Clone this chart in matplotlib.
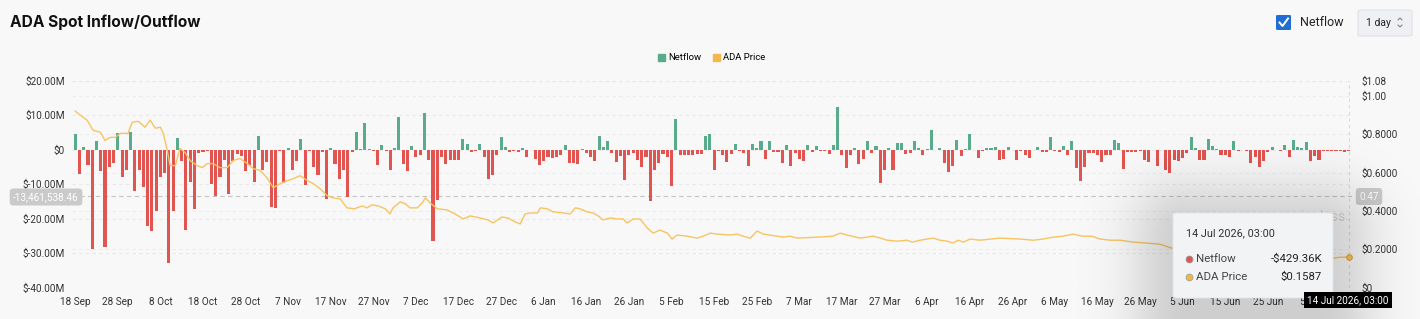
import numpy as np
import matplotlib
matplotlib.use("Agg")
import matplotlib.pyplot as plt
from matplotlib.patches import FancyBboxPatch, Patch
from matplotlib.lines import Line2D

plt.rcParams['font.family'] = ['Roboto', 'DejaVu Sans']

# ---- data ----
start_labels = ['18 Sep', '28 Sep', '8 Oct', '18 Oct', '28 Oct', '7 Nov', '17 Nov', '27 Nov',
                '7 Dec', '17 Dec', '27 Dec', '6 Jan', '16 Jan', '26 Jan', '5 Feb', '15 Feb',
                '25 Feb', '7 Mar', '17 Mar', '27 Mar', '6 Apr', '16 Apr', '26 Apr', '6 May',
                '16 May', '26 May', '5 Jun', '15 Jun', '25 Jun', '5 Jul']

# daily netflow in $M, 18 Sep 2025 -> 14 Jul 2026
netflow = [
    4.4, -7.1, 0.7, -4.4, -28.8, 2.6, -6.3, -28.3, -5.0, -3.9,
    4.8, -8.0, -6.0, 5.1, -11.9, -5.8, -10.7, -22.3, -23.7, -17.9,
    -7.8, -6.8, -32.9, -17.7, 3.4, -3.4, -23.3, -9.5, -17.2, -1.0,
    -0.8, -0.3, -10.0, -13.4, -8.0, -3.1, -12.8, -3.4, -1.2, -1.9,
    -6.3, -4.4, -9.5, 4.1, -5.8, -3.7, -16.7, -16.8, -0.3, -9.7,
    0.6, -6.0, -3.2, 3.2, -10.3, -0.4, -5.0, -7.5, -0.8, -14.2,
    0.6, -4.2, -8.5, -6.0, -13.8, -0.8, 5.1, 0.2, 7.8, 0.3,
    -0.5, -4.5, 1.2, -0.5, -5.8, 0.5, 9.4, -4.1, -6.3, 1.0,
    -2.1, -1.7, 10.7, -3.1, -26.4, -14.5, -2.1, -4.1, -2.9, -2.9,
    -3.1, 3.1, 1.7, -0.7, -0.5, 1.5, -2.2, -8.5, -7.3, -1.7,
    3.6, 0.8, -0.8, -0.5, -0.7, 0.5, -2.1, -0.2, -2.7, -4.4,
    -3.4, -2.1, -2.4, -2.1, -1.5, 1.2, -3.9, -3.9, -4.1, 0.2,
    -1.0, -2.1, -3.4, 3.9, 0.7, 2.4, -1.0, -3.7, -1.9, -8.9,
    -1.5, -1.0, -2.9, -5.0, -2.1, -15.0, -6.0, -3.9, -1.2, -2.1,
    -10.5, 8.9, -1.7, -1.7, -1.7, -1.7, -1.2, -1.2, 3.9, 4.4,
    -6.0, -0.3, -1.7, -3.7, -1.2, 1.7, -0.5, -1.0, -4.7, 1.7,
    0.5, 2.6, -2.7, 2.4, -0.6, -0.8, -3.9, 1.3, -4.7, -1.0,
    -2.7, -3.4, 1.2, -0.6, 1.0, -0.4, -0.5, -1.2, 1.3, 12.3,
    -1.7, -5.3, -1.5, 0.5, -4.2, -2.6, 2.4, -1.0, 1.0, -9.7,
    -5.8, 0.5, -6.0, 1.9, 1.9, -1.2, -1.0, 2.4, 0.5, -1.7,
    0.2, 5.8, -0.2, 0.5, -3.9, -6.6, -4.8, 2.9, -1.9, 0.2,
    4.4, -0.2, -2.4, -0.5, 0.5, 0.5, 0.8, -2.9, -2.6, 0.7,
    -0.2, -3.1, -0.5, -1.7, -2.4, -0.2, 0.7, -0.8, -0.8, 3.6,
    -0.5, -0.8, 1.0, -1.5, 2.6, -5.3, -9.2, -5.0, -1.0, -1.0,
    -1.5, -3.7, -1.5, -1.5, 2.9, 1.9, -5.6, -0.8, -0.8, -0.8,
    -0.5, -3.1, -3.7, -0.2, -4.7, -0.2, -5.8, -6.8, -2.9, -3.4,
    -2.4, -1.0, 3.7, 0.5, -2.9, -2.9, 3.1, 1.0, 0.2, -1.5,
    -1.7, -2.1, 2.4, -0.5, -0.2, -0.5, -3.9, -2.1, -5.0, -3.4,
    -0.8, 0.7, -0.2, -0.3, 1.2, -2.1, 2.9, 0.7, 0.5, 2.1,
    -3.4, -1.9, -2.9, -0.5, -0.5, -0.4, -0.4, -0.4, -0.6, -0.43,
]

# ADA price samples (day index, $)
price_pts = [
    (0, 0.921), (1.2, 0.900), (2.8, 0.874), (4.2, 0.821), (5.9, 0.811), (7, 0.768),
    (8.2, 0.784), (9.4, 0.784), (10.6, 0.805), (12.4, 0.805), (13.4, 0.863), (14.8, 0.868),
    (16.4, 0.837), (17.6, 0.874), (18.8, 0.832), (20, 0.837), (20.7, 0.805), (21.6, 0.716),
    (22.3, 0.637), (23.5, 0.637), (24.6, 0.726), (25.8, 0.705), (27, 0.663), (28.6, 0.637),
    (29.8, 0.626), (31, 0.647), (32.4, 0.647), (34, 0.626), (35.7, 0.626), (37.1, 0.663),
    (38.7, 0.674), (40.4, 0.647), (41.8, 0.621), (43.4, 0.611), (45, 0.574), (46.5, 0.521),
    (48.1, 0.542), (49.8, 0.558), (51.2, 0.568), (52.8, 0.584), (54.5, 0.558), (55.9, 0.542),
    (57.5, 0.516), (59.2, 0.479), (60.6, 0.468), (62.2, 0.463), (63.8, 0.416), (65.5, 0.411),
    (67.4, 0.426), (68.5, 0.416), (69.7, 0.432), (71.1, 0.426), (72.8, 0.411), (73.9, 0.384),
    (74.6, 0.416), (76.3, 0.447), (77.5, 0.437), (78.6, 0.416), (80.3, 0.416), (81.5, 0.442),
    (82.2, 0.468), (83.3, 0.442), (85, 0.411), (87.3, 0.405), (89.2, 0.384), (91.1, 0.358),
    (92.7, 0.374), (95.1, 0.363), (96.9, 0.353), (98.1, 0.337), (100.2, 0.368), (101.6, 0.363),
    (103.3, 0.342), (104.5, 0.332), (105.6, 0.384), (106.8, 0.389), (108.5, 0.389), (109.2, 0.416),
    (110.8, 0.411), (112.2, 0.395), (114.6, 0.389), (116.2, 0.384), (117.4, 0.416), (118.5, 0.411),
    (120.2, 0.395), (121.6, 0.389), (122.8, 0.374), (123.9, 0.353), (125.6, 0.363), (127.2, 0.358),
    (128.6, 0.358), (129.6, 0.337), (131, 0.358), (132.6, 0.358), (134.3, 0.311), (135.7, 0.284),
    (137.3, 0.300), (139, 0.284), (140.1, 0.253), (141.3, 0.274), (143.7, 0.268), (146, 0.258),
    (147.4, 0.268), (149.1, 0.284), (150.7, 0.279), (153.8, 0.274), (155.4, 0.279), (156.8, 0.268),
    (158.5, 0.258), (160.1, 0.295), (161.5, 0.279), (163.1, 0.274), (166.2, 0.263), (167.8, 0.268),
    (169.5, 0.258), (174.2, 0.263), (177.9, 0.268), (179.6, 0.284), (181.2, 0.274), (184.3, 0.258),
    (187.3, 0.268), (189, 0.258), (190.6, 0.247), (193, 0.242), (195.3, 0.247), (196.5, 0.237),
    (198.4, 0.247), (200, 0.253), (201.4, 0.258), (203, 0.247), (204.7, 0.242), (206.1, 0.232),
    (207.3, 0.247), (208.5, 0.237), (210.1, 0.253), (212.4, 0.247), (217.1, 0.258), (221.8, 0.253),
    (224.9, 0.247), (227.2, 0.253), (229.6, 0.263), (231.9, 0.268), (234.3, 0.279), (236.4, 0.268),
    (238.7, 0.268), (240.6, 0.253), (243, 0.247), (245.3, 0.247), (248.4, 0.237), (251.6, 0.232),
    (254.7, 0.226), (257.5, 0.205), (262, 0.195), (268, 0.190), (275, 0.185), (282, 0.178),
    (288, 0.170), (292, 0.163), (295.3, 0.153), (297, 0.158), (299, 0.1587),
]

left_ticks = [-40, -30, -20, -10, 0, 10, 20]
left_labels = ['$-40.00M', '$-30.00M', '$-20.00M', '$-10.00M', '$0', '$10.00M', '$20.00M']
right_ticks = [0, 0.2, 0.4, 0.6, 0.8, 1.0, 1.08]
right_labels = ['$0', '$0.2000', '$0.4000', '$0.6000', '$0.8000', '$1.00', '$1.08']

cross_value = -13461538.46
cross_price = 0.47
tip_date = '14 Jul 2026, 03:00'
tip_netflow = '-$429.36K'

# ---- figure ----
W, H = 1420, 319
def fx(x):
    return x / W
def fy(y):
    return 1 - y / H

bg = '#F8F8F8'
green = '#58AC8C'
red = '#E1544F'
gold = '#F7C462'

fig = plt.figure(figsize=(W / 100, H / 100), dpi=100, facecolor=bg)
ax = fig.add_axes([fx(72), fy(287.5), (1352 - 72) / W, (287.5 - 80.7) / H])
ax.set_facecolor(bg)
ax2 = ax.twinx()

days = np.arange(len(netflow))
colors = [green if v >= 0 else red for v in netflow]
ax.bar(days, netflow, width=0.72, color=colors, zorder=3)

ax.set_xlim(-0.75, len(netflow) - 0.25)
ax.set_ylim(-40, 20)
ax.set_yticks(left_ticks)
ax.set_yticklabels(left_labels)
ax.set_xticks(np.arange(0, len(netflow), 10))
ax.set_xticklabels(start_labels)
ax.grid(axis='y', color='#E8E8E8', ls=(0, (3, 3)), lw=0.8, zorder=0)
ax.set_axisbelow(True)
# right-axis grid drawn on the left axes so it stays behind the bars
for t in right_ticks:
    ax.axhline(-40 + t * 60 / 1.08, color='#ECECEC', ls=(0, (3, 3)), lw=0.8, zorder=0)

ax2.set_ylim(0, 1.08)
ax2.set_yticks(right_ticks)
ax2.set_yticklabels(right_labels)
pd_, pv_ = zip(*price_pts)
ax2.plot(pd_, pv_, color=gold, lw=1.0, zorder=4)
ax2.plot([pd_[-1]], [pv_[-1]], 'o', ms=4, mfc=gold, mec='#E0A93A', mew=0.8, zorder=5)

for a in (ax, ax2):
    for s in a.spines.values():
        s.set_visible(False)
    a.tick_params(length=0, labelsize=7.2, colors='#333333')
ax.tick_params(axis='y', pad=5)
ax.tick_params(axis='x', pad=7)
ax2.tick_params(axis='y', pad=7)

# crosshair
ax.axhline(cross_value / 1e6, color='#C4C4C4', ls=(0, (4, 3)), lw=0.8, zorder=2)
ax.axvline(len(netflow) - 1, color='#DADADA', ls=(0, (3, 3)), lw=0.8, zorder=2)
fig.text(fx(46), fy(197), f'{cross_value:,.2f}', ha='center', va='center', color='white',
         fontsize=7.2, bbox=dict(boxstyle='round,pad=0.35', fc='#CACACA', ec='none'))
fig.text(fx(1369), fy(196.5), f'{cross_price:.2f}', ha='center', va='center', color='white',
         fontsize=7.2, bbox=dict(boxstyle='round,pad=0.35', fc='#CACACA', ec='none'))

# title + controls
fig.text(fx(10), fy(22), 'ADA Spot Inflow/Outflow', fontsize=11.2, weight='bold',
         family=['Inter', 'DejaVu Sans'], color='#111111', va='center')
fig.add_artist(FancyBboxPatch((fx(1276), fy(30)), 15 / W, 15 / H, boxstyle='round,pad=0,rounding_size=0.002',
                              transform=fig.transFigure, fc='#1F6ED4', ec='none'))
fig.add_artist(Line2D([fx(1279.5), fx(1282.5), fx(1288)], [fy(22.5), fy(26), fy(18.5)],
                      transform=fig.transFigure, color='white', lw=1.4))
fig.text(fx(1300), fy(22.5), 'Netflow', fontsize=9, color='#222222', va='center')
fig.add_artist(FancyBboxPatch((fx(1358), fy(36)), 54 / W, 26 / H, boxstyle='round,pad=0,rounding_size=0.003',
                              transform=fig.transFigure, fc='#EEF0F3', ec='#DEE2E7', lw=0.8))
fig.text(fx(1366), fy(23), '1 day', fontsize=7.5, color='#222222', va='center')
fig.add_artist(Line2D([fx(1398), fx(1400), fx(1402)], [fy(20), fy(18), fy(20)],
                      transform=fig.transFigure, color='#777777', lw=0.7))
fig.add_artist(Line2D([fx(1398), fx(1400), fx(1402)], [fy(25), fy(27), fy(25)],
                      transform=fig.transFigure, color='#777777', lw=0.7))

# legend
fig.legend(handles=[Patch(color=green, label='Netflow'), Patch(color='#F2B84B', label='ADA Price')],
           loc='center', bbox_to_anchor=(fx(712), fy(58)), ncol=2, frameon=False, fontsize=6.8,
           handlelength=0.7, handleheight=0.7, columnspacing=1.2, handletextpad=0.4)

# hover date box on the x axis
fig.text(fx(1348), fy(300), tip_date, ha='center', va='center', color='white',
         fontsize=7.2, bbox=dict(boxstyle='square,pad=0.3', fc='black', ec='none'), zorder=10)

# soft shadow behind the tooltip (blurred rectangle as an rgba image)
fig.text(fx(1346), fy(217), 'coinglass', ha='right', va='center', fontsize=10, color='#D6D6D6', zorder=4)
sh = fig.add_axes([0, 0, 1, 1], zorder=5)
sh.set_axis_off()
sh.patch.set_visible(False)
gx, gy = np.meshgrid(np.arange(W) + 0.5, np.arange(H) + 0.5)
ddx = np.maximum(np.maximum(1185 - gx, gx - 1320), 0)
ddy = np.maximum(np.maximum(235 - gy, gy - 330), 0)
dist = np.hypot(ddx, ddy)
rgba = np.zeros((H, W, 4))
rgba[..., 3] = 0.17 * np.exp(-(dist / 55.0) ** 2)
sh.imshow(rgba, extent=[0, W, H, 0], interpolation='bilinear', aspect='auto')
sh.set_xlim(0, W)
sh.set_ylim(H, 0)

# tooltip
fig.add_artist(FancyBboxPatch((fx(1173), fy(298)), 160 / W, 85 / H, boxstyle='round,pad=0,rounding_size=0.004',
                              transform=fig.transFigure, fc='#F1F3F5', ec='#E2E5E9', lw=0.6, zorder=6))
fig.text(fx(1186), fy(233), tip_date, fontsize=7.8, color='#333333', va='center', zorder=7)
fig.add_artist(Line2D([fx(1189)], [fy(259)], marker='o', ms=5, mfc='#E1544F', mec='#999999', mew=0.5,
                      transform=fig.transFigure, zorder=7))
fig.add_artist(Line2D([fx(1189)], [fy(277)], marker='o', ms=5, mfc='#EFB93F', mec='#999999', mew=0.5,
                      transform=fig.transFigure, zorder=7))
fig.text(fx(1196), fy(259), 'Netflow', fontsize=8.2, color='#444444', va='center', zorder=7)
fig.text(fx(1196), fy(277), 'ADA Price', fontsize=8.2, color='#444444', va='center', zorder=7)
fig.text(fx(1322), fy(259), tip_netflow, fontsize=8.2, color='#222222', ha='right', va='center', zorder=7)
fig.text(fx(1322), fy(277), f'${price_pts[-1][1]:.4f}', fontsize=8.2, color='#222222', ha='right',
         va='center', zorder=7)

fig.savefig('out.png', dpi=100, facecolor=bg)
